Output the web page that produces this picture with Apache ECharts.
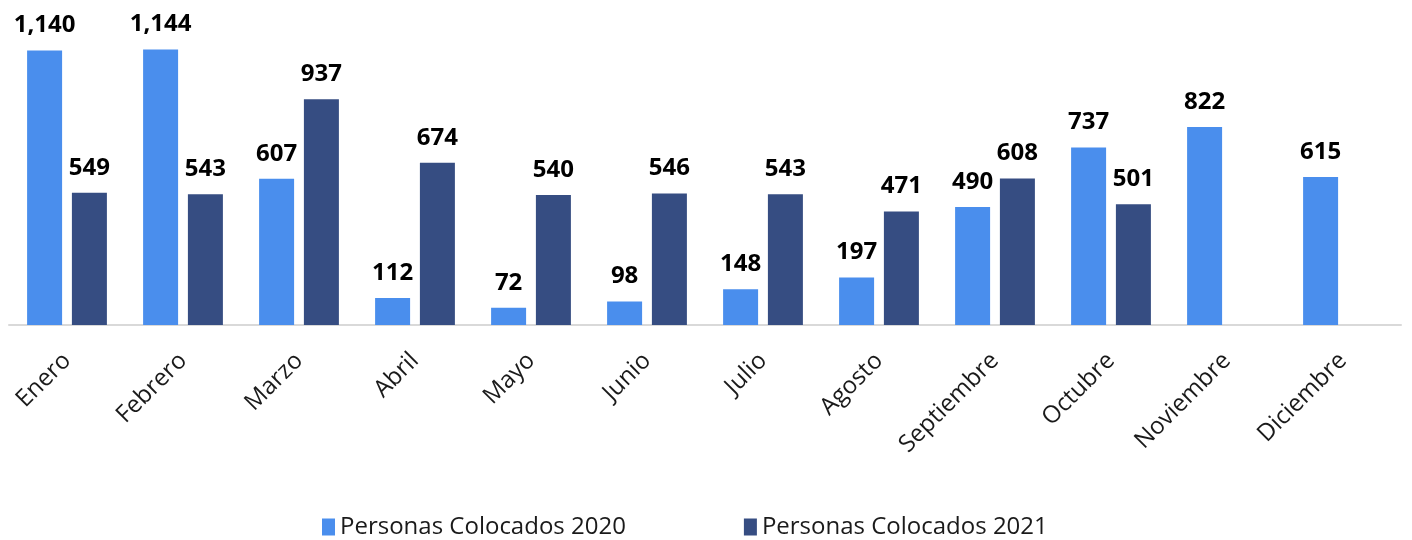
<!DOCTYPE html>
<html>
<head>
<meta charset="utf-8">
<script src="https://cdn.jsdelivr.net/npm/echarts@6/dist/echarts.min.js"></script>
<style>
  html, body { margin: 0; padding: 0; background: #fff; }
  #chart { width: 1412px; height: 540px; }
</style>
</head>
<body>
<div id="chart"></div>
<script>
var meses = ["Enero", "Febrero", "Marzo", "Abril", "Mayo", "Junio", "Julio",
  "Agosto", "Septiembre", "Octubre", "Noviembre", "Diciembre"];
var colocados2020 = [1140, 1144, 607, 112, 72, 98, 148, 197, 490, 737, 822, 615];
var colocados2021 = [549, 543, 937, 674, 540, 546, 543, 471, 608, 501, null, null];

var fuente = "'Open Sans', 'Noto Sans', sans-serif";

// etiqueta encima de cada barra, con separador de miles
var etiqueta = {
  show: true,
  position: "top",
  distance: 13,
  color: "#000",
  fontFamily: fuente,
  fontWeight: "bold",
  fontSize: 24,
  formatter: function (p) {
    return p.value == null ? "" : p.value.toLocaleString("en-US");
  }
};

var myChart = echarts.init(document.getElementById("chart"));
myChart.setOption({
  animation: false,
  grid: { left: 9, right: 11, top: 36, bottom: 215 },
  legend: {
    top: 510,
    left: 317,
    itemGap: 118,
    itemWidth: 13,
    itemHeight: 17,
    icon: "rect",
    textStyle: { fontFamily: fuente, fontSize: 24, color: "#1a1a1a" },
    data: ["Personas Colocados 2020", "Personas Colocados 2021"]
  },
  xAxis: {
    type: "category",
    data: meses,
    axisLine: { lineStyle: { color: "#d9d9d9", width: 2 } },
    axisTick: { show: false },
    axisLabel: {
      interval: 0,
      rotate: 45,
      margin: 32,
      color: "#1a1a1a",
      fontFamily: fuente,
      fontSize: 24
    }
  },
  yAxis: {
    type: "value",
    min: 0,
    max: 1200,
    show: false,
    splitLine: { show: false }
  },
  series: [
    {
      name: "Personas Colocados 2020",
      type: "bar",
      data: colocados2020,
      barWidth: 35,
      barGap: "28%",
      itemStyle: { color: "#4A8EED" },
      label: etiqueta
    },
    {
      name: "Personas Colocados 2021",
      type: "bar",
      data: colocados2021,
      barWidth: 35,
      barGap: "28%",
      itemStyle: { color: "#364D82" },
      label: etiqueta
    }
  ]
});
</script>
</body>
</html>
